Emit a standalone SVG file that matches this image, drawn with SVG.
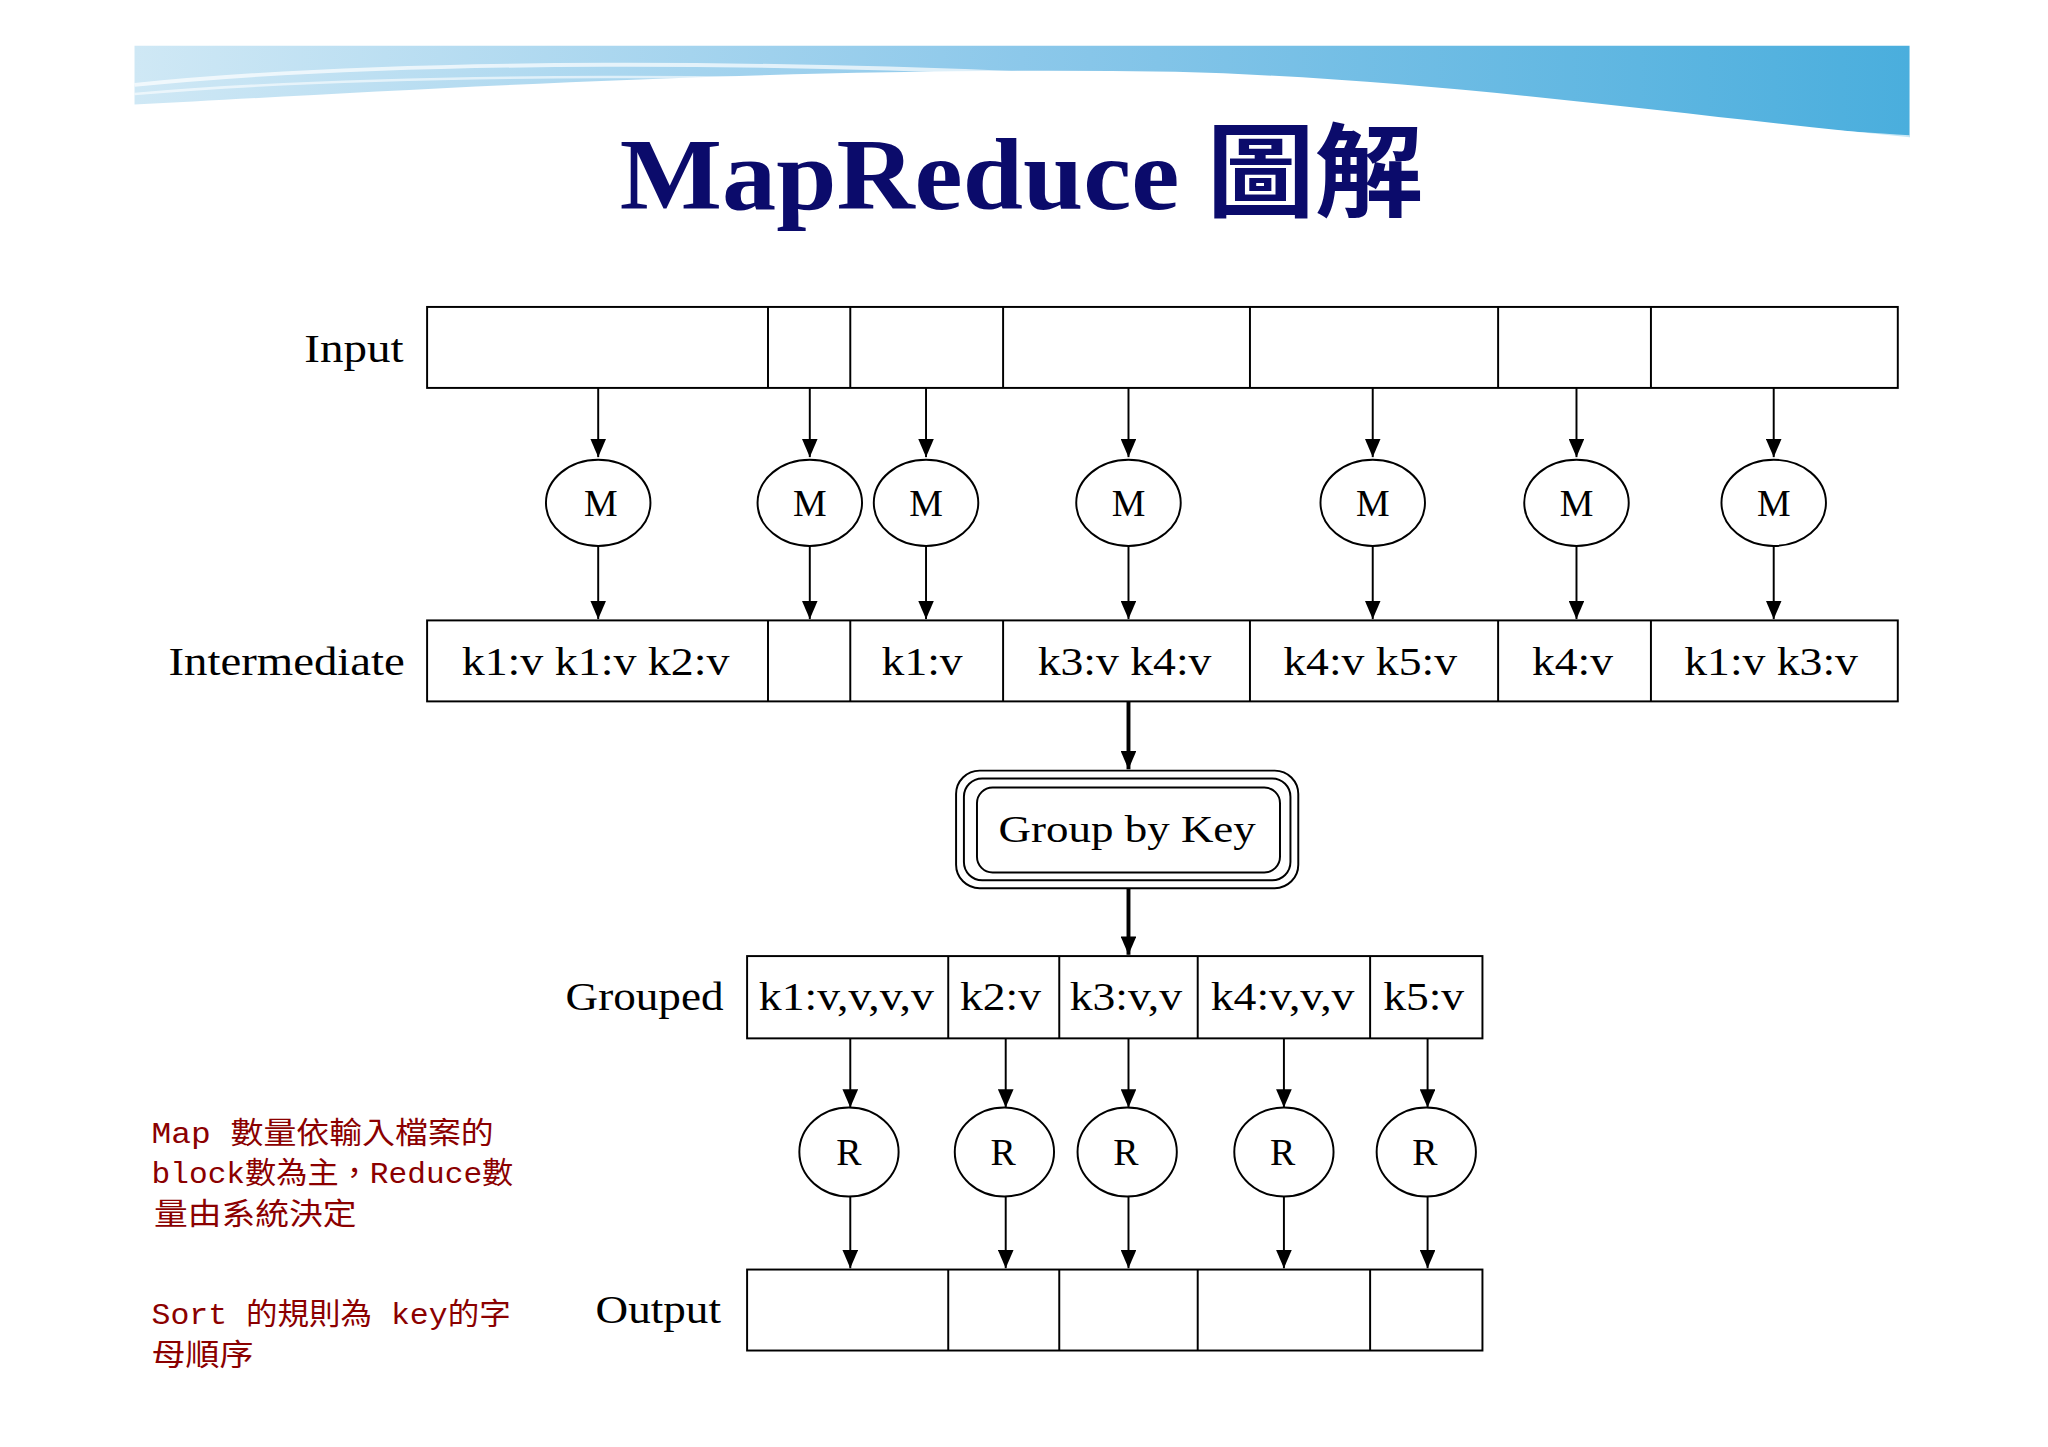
<svg xmlns="http://www.w3.org/2000/svg" width="2048" height="1447" viewBox="0 0 2048 1447">
<defs>
<linearGradient id="band" x1="0" y1="0" x2="1" y2="0">
<stop offset="0" stop-color="#cfe8f5"/><stop offset="0.5" stop-color="#8cc8ea"/><stop offset="1" stop-color="#4aaedd"/>
</linearGradient>
<marker id="ah" viewBox="0 0 10 10" refX="10" refY="5" markerWidth="14" markerHeight="12" markerUnits="userSpaceOnUse" orient="auto" preserveAspectRatio="none">
<path d="M0,0 L10,5 L0,10 z" fill="#000"/>
</marker>
<marker id="ahb" viewBox="0 0 10 10" refX="10" refY="5" markerWidth="14" markerHeight="12" markerUnits="userSpaceOnUse" orient="auto" preserveAspectRatio="none">
<path d="M0,0 L10,5 L0,10 z" fill="#000"/>
</marker>
</defs>
<style>
.box{fill:#fff;stroke:#000;stroke-width:1.5}
.lbl{font-family:"Liberation Serif",serif;font-size:31px;fill:#000}
.cell{font-family:"Liberation Serif",serif;font-size:31px;fill:#000;text-anchor:middle}
.node{fill:#fff;stroke:#000;stroke-width:1.5}
.ntx{font-family:"Liberation Serif",serif;font-size:29px;fill:#000;text-anchor:middle}
.ar{stroke:#000;stroke-width:1.5;fill:none;marker-end:url(#ah)}
.arb{stroke:#000;stroke-width:3;fill:none;marker-end:url(#ahb)}
.note{font-family:"Liberation Mono","Noto Sans CJK TC",monospace;font-size:23px;fill:#8b0000}
</style>
<rect width="2048" height="1447" fill="#fff"/>
<g transform="scale(1.30612)">
<g id="banner">
<path d="M103,35 H1462 V105 C1300,90 1100,60 900,55 C600,50 300,70 103,80 Z" fill="url(#band)"/>
<path d="M103,65 C300,45 600,45 900,62 C1100,75 1300,95 1462,105" fill="none" stroke="#ffffff" stroke-width="3" opacity="0.7"/>
<path d="M103,72 C300,55 600,55 900,70" fill="none" stroke="#ffffff" stroke-width="2" opacity="0.6"/>
</g>
<text x="782" y="160" text-anchor="middle" font-family="Liberation Serif,'Noto Sans CJK TC',serif" font-weight="bold" font-size="78" fill="#0b0b6b" textLength="615" lengthAdjust="spacingAndGlyphs">MapReduce 圖解</text>

<g id="input">
<rect class="box" x="327" y="235" width="1126" height="62"/>
<path d="M588,235V297M651,235V297M768,235V297M957,235V297M1147,235V297M1264,235V297" stroke="#000" stroke-width="1.5"/>
<text class="lbl" x="233" y="277" textLength="76" lengthAdjust="spacingAndGlyphs">Input</text>
</g>
<g id="maps">
<ellipse class="node" cx="458" cy="385" rx="40" ry="33"/><text class="ntx" x="460" y="395">M</text>
<ellipse class="node" cx="620" cy="385" rx="40" ry="33"/><text class="ntx" x="620" y="395">M</text>
<ellipse class="node" cx="709" cy="385" rx="40" ry="33"/><text class="ntx" x="709" y="395">M</text>
<ellipse class="node" cx="864" cy="385" rx="40" ry="33"/><text class="ntx" x="864" y="395">M</text>
<ellipse class="node" cx="1051" cy="385" rx="40" ry="33"/><text class="ntx" x="1051" y="395">M</text>
<ellipse class="node" cx="1207" cy="385" rx="40" ry="33"/><text class="ntx" x="1207" y="395">M</text>
<ellipse class="node" cx="1358" cy="385" rx="40" ry="33"/><text class="ntx" x="1358" y="395">M</text>
</g>
<g id="intermediate">
<rect class="box" x="327" y="475" width="1126" height="62"/>
<path d="M588,475V537M651,475V537M768,475V537M957,475V537M1147,475V537M1264,475V537" stroke="#000" stroke-width="1.5"/>
<text class="lbl" x="129" y="517" textLength="181" lengthAdjust="spacingAndGlyphs">Intermediate</text>
<text class="cell" x="456" y="517" textLength="205" lengthAdjust="spacingAndGlyphs">k1:v k1:v k2:v</text>
<text class="cell" x="706" y="517" textLength="62" lengthAdjust="spacingAndGlyphs">k1:v</text>
<text class="cell" x="861" y="517" textLength="133" lengthAdjust="spacingAndGlyphs">k3:v k4:v</text>
<text class="cell" x="1049" y="517" textLength="133" lengthAdjust="spacingAndGlyphs">k4:v k5:v</text>
<text class="cell" x="1204" y="517" textLength="62" lengthAdjust="spacingAndGlyphs">k4:v</text>
<text class="cell" x="1356" y="517" textLength="133" lengthAdjust="spacingAndGlyphs">k1:v k3:v</text>
</g>
<g id="groupbykey">
<rect x="732" y="590" width="262" height="90" rx="18" fill="#fff" stroke="#000" stroke-width="1.5"/>
<rect x="738" y="596" width="250" height="78" rx="14" fill="none" stroke="#000" stroke-width="1.5"/>
<rect x="748" y="603" width="232" height="65" rx="12" fill="none" stroke="#000" stroke-width="1.5"/>
<text class="ntx" x="863" y="645" textLength="197" lengthAdjust="spacingAndGlyphs">Group by Key</text>
</g>
<g id="grouped">
<rect class="box" x="572" y="732" width="563" height="63"/>
<path d="M726,732V795M811,732V795M917,732V795M1049,732V795" stroke="#000" stroke-width="1.5"/>
<text class="lbl" x="433" y="773" textLength="121" lengthAdjust="spacingAndGlyphs">Grouped</text>
<text class="cell" x="648" y="773" textLength="134" lengthAdjust="spacingAndGlyphs">k1:v,v,v,v</text>
<text class="cell" x="766" y="773" textLength="62" lengthAdjust="spacingAndGlyphs">k2:v</text>
<text class="cell" x="862" y="773" textLength="86" lengthAdjust="spacingAndGlyphs">k3:v,v</text>
<text class="cell" x="982" y="773" textLength="110" lengthAdjust="spacingAndGlyphs">k4:v,v,v</text>
<text class="cell" x="1090" y="773" textLength="62" lengthAdjust="spacingAndGlyphs">k5:v</text>
</g>
<g id="reducers">
<ellipse class="node" cx="650" cy="882" rx="38" ry="34"/><text class="ntx" x="650" y="892">R</text>
<ellipse class="node" cx="769" cy="882" rx="38" ry="34"/><text class="ntx" x="768" y="892">R</text>
<ellipse class="node" cx="863" cy="882" rx="38" ry="34"/><text class="ntx" x="862" y="892">R</text>
<ellipse class="node" cx="983" cy="882" rx="38" ry="34"/><text class="ntx" x="982" y="892">R</text>
<ellipse class="node" cx="1092" cy="882" rx="38" ry="34"/><text class="ntx" x="1091" y="892">R</text>
</g>
<g id="output">
<rect class="box" x="572" y="972" width="563" height="62"/>
<path d="M726,972V1034M811,972V1034M917,972V1034M1049,972V1034" stroke="#000" stroke-width="1.5"/>
<text class="lbl" x="456" y="1013" textLength="96" lengthAdjust="spacingAndGlyphs">Output</text>
</g>
<g id="connectors">
<line class="ar" x1="458" y1="297" x2="458" y2="350"/>
<line class="ar" x1="620" y1="297" x2="620" y2="350"/>
<line class="ar" x1="709" y1="297" x2="709" y2="350"/>
<line class="ar" x1="864" y1="297" x2="864" y2="350"/>
<line class="ar" x1="1051" y1="297" x2="1051" y2="350"/>
<line class="ar" x1="1207" y1="297" x2="1207" y2="350"/>
<line class="ar" x1="1358" y1="297" x2="1358" y2="350"/>
<line class="ar" x1="458" y1="418" x2="458" y2="474"/>
<line class="ar" x1="620" y1="418" x2="620" y2="474"/>
<line class="ar" x1="709" y1="418" x2="709" y2="474"/>
<line class="ar" x1="864" y1="418" x2="864" y2="474"/>
<line class="ar" x1="1051" y1="418" x2="1051" y2="474"/>
<line class="ar" x1="1207" y1="418" x2="1207" y2="474"/>
<line class="ar" x1="1358" y1="418" x2="1358" y2="474"/>
<line class="arb" x1="864" y1="537" x2="864" y2="589"/>
<line class="arb" x1="864" y1="680" x2="864" y2="731"/>
<line class="ar" x1="651" y1="795" x2="651" y2="848"/>
<line class="ar" x1="770" y1="795" x2="770" y2="848"/>
<line class="ar" x1="864" y1="795" x2="864" y2="848"/>
<line class="ar" x1="983" y1="795" x2="983" y2="848"/>
<line class="ar" x1="1093" y1="795" x2="1093" y2="848"/>
<line class="ar" x1="651" y1="916" x2="651" y2="971"/>
<line class="ar" x1="770" y1="916" x2="770" y2="971"/>
<line class="ar" x1="864" y1="916" x2="864" y2="971"/>
<line class="ar" x1="983" y1="916" x2="983" y2="971"/>
<line class="ar" x1="1093" y1="916" x2="1093" y2="971"/>
</g>
<g id="notes">
<text class="note" x="116" y="875" textLength="262" lengthAdjust="spacingAndGlyphs">Map 數量依輸入檔案的</text>
<text class="note" x="116" y="906" textLength="277" lengthAdjust="spacingAndGlyphs">block數為主，Reduce數</text>
<text class="note" x="118" y="937" textLength="155" lengthAdjust="spacingAndGlyphs">量由系統決定</text>
<text class="note" x="116" y="1014" textLength="275" lengthAdjust="spacingAndGlyphs">Sort 的規則為 key的字</text>
<text class="note" x="116" y="1045" textLength="78" lengthAdjust="spacingAndGlyphs">母順序</text>
</g>
</g>
</svg>
